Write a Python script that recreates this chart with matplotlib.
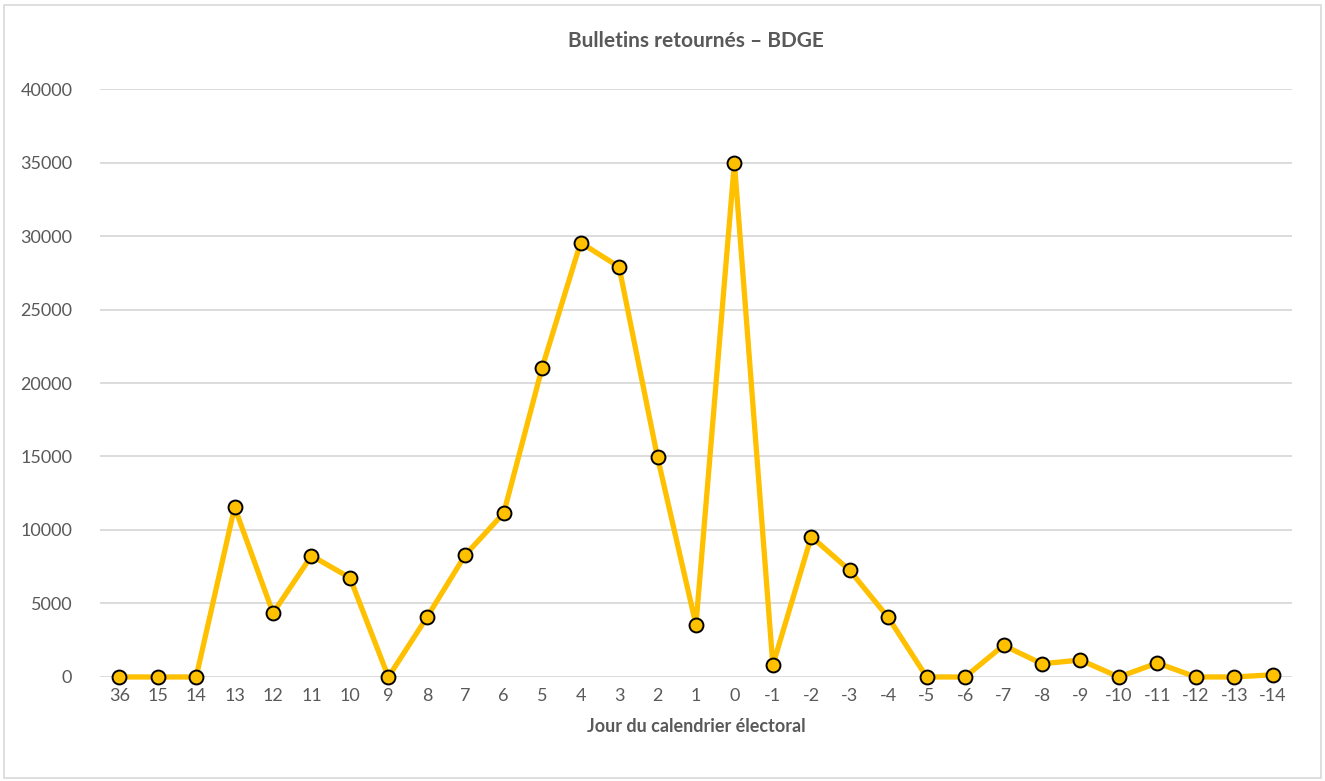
import matplotlib
matplotlib.use("Agg")
import matplotlib.pyplot as plt
from matplotlib.patches import Rectangle

# Data
days = ["36", "15", "14", "13", "12", "11", "10", "9", "8", "7", "6", "5", "4", "3",
        "2", "1", "0", "-1", "-2", "-3", "-4", "-5", "-6", "-7", "-8", "-9", "-10",
        "-11", "-12", "-13", "-14"]
bulletins = [0, 0, 0, 11550, 4350, 8250, 6750, 0, 4050, 8300, 11150, 21050, 29550,
             27900, 14950, 3550, 35000, 800, 9550, 7250, 4050, 0, 0, 2150, 900, 1150,
             0, 950, 0, 0, 150]

plt.rcParams['font.family'] = ['Lato', 'DejaVu Sans']

fig = plt.figure(figsize=(13.25, 7.81), dpi=100)
ax = fig.add_axes([0.0755, 0.1332, 0.8995, 0.7528])

x = list(range(len(days)))
ax.plot(x, bulletins, color='#FFC000', linewidth=3.8, marker='o', markersize=10,
        markerfacecolor='#FFC000', markeredgecolor='black', markeredgewidth=1.4,
        zorder=3, clip_on=False)

ax.set_xlim(-0.5, len(days) - 0.5)
ax.set_ylim(0, 40000)
ax.set_yticks(range(0, 40001, 5000))
ax.set_xticks(x)
ax.set_xticklabels(days)
ax.grid(axis='y', color='#d9d9d9', linewidth=1.3)
ax.set_axisbelow(True)
for s in ax.spines.values():
    s.set_visible(False)
ax.tick_params(length=0, labelsize=13, colors='#595959', pad=8)
ax.tick_params(axis='y', pad=20)

ax.set_title("Bulletins retournés – BDGE", fontsize=15, fontweight='bold',
             color='#595959', pad=30)
ax.set_xlabel("Jour du calendrier électoral", fontsize=13, fontweight='bold',
              color='#595959', labelpad=10)

fig.patches.append(Rectangle((0.003, 0.004), 0.994, 0.99, transform=fig.transFigure,
                             fill=False, edgecolor='#d9d9d9', linewidth=1.2))

fig.savefig("out.png", dpi=100)
